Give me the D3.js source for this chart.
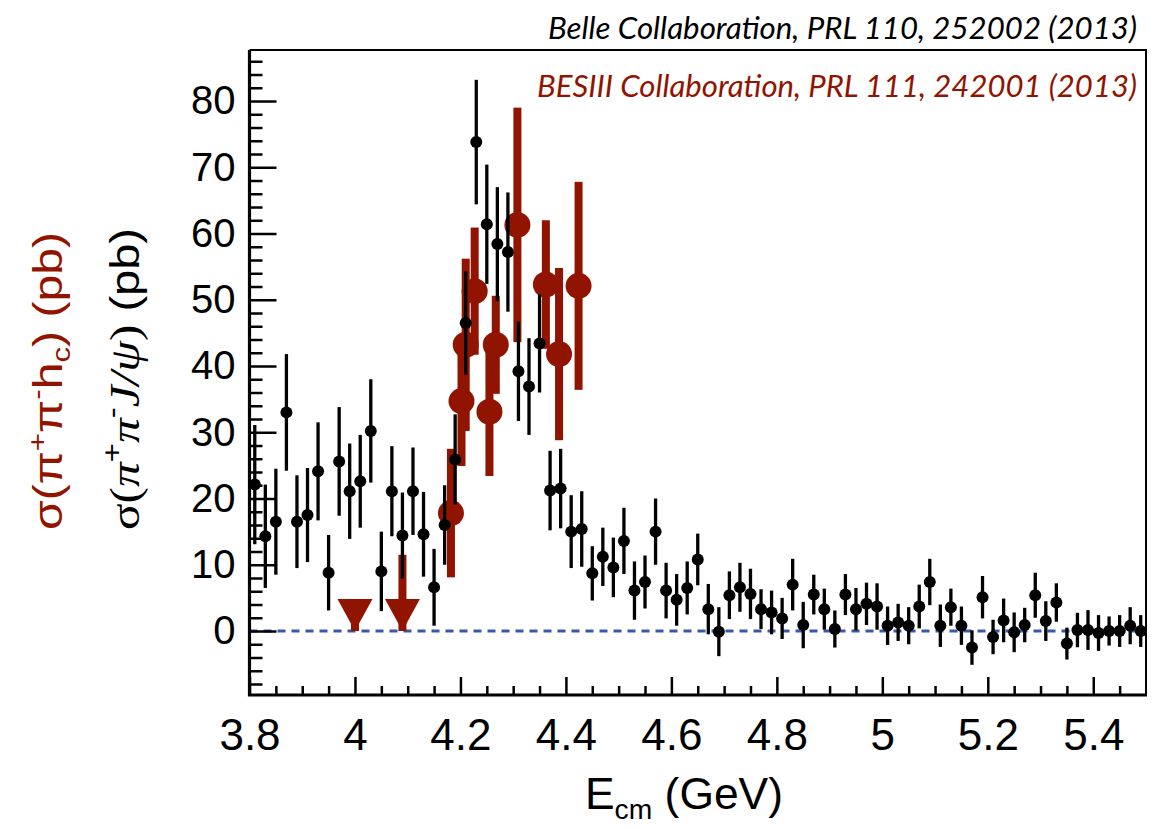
<!DOCTYPE html>
<html>
<head>
<meta charset="utf-8">
<script src="https://cdn.jsdelivr.net/npm/d3@7"></script>
<style>body{margin:0;background:#fff}</style>
</head>
<body>
<script>
// Belle: sigma(pi+ pi- J/psi), 20 MeV bins
var belleE = [3.81,3.83,3.85,3.87,3.89,3.91,3.93,3.95,3.97,3.99,
  4.01,4.03,4.05,4.07,4.09,4.11,4.13,4.15,4.17,4.19,
  4.21,4.23,4.25,4.27,4.29,4.31,4.33,4.35,4.37,4.39,
  4.41,4.43,4.45,4.47,4.49,4.51,4.53,4.55,4.57,4.59,
  4.61,4.63,4.65,4.67,4.69,4.71,4.73,4.75,4.77,4.79,
  4.81,4.83,4.85,4.87,4.89,4.91,4.93,4.95,4.97,4.99,
  5.01,5.03,5.05,5.07,5.09,5.11,5.13,5.15,5.17,5.19,
  5.21,5.23,5.25,5.27,5.29,5.31,5.33,5.35,5.37,5.39,
  5.41,5.43,5.45,5.47,5.49];
var belleVal = [22.1,14.3,16.5,33.0,16.5,17.5,24.1,8.8,25.6,21.1,
  22.6,30.2,9.0,21.1,14.4,21.1,14.6,6.6,16.0,25.9,
  46.5,73.8,61.4,58.4,57.2,39.2,36.9,43.4,21.2,21.5,
  15.0,15.4,8.7,11.2,9.6,13.6,6.1,7.4,15.0,6.1,
  4.7,6.5,10.8,3.3,-0.1,5.4,6.6,5.6,3.3,2.8,
  1.9,7.0,0.9,5.5,3.3,0.3,5.5,3.3,4.1,3.7,
  0.8,1.3,0.8,3.7,7.4,0.8,3.6,0.8,-2.5,5.1,
  -0.9,1.6,-0.2,0.9,5.4,1.5,4.3,-1.9,0.15,0.15,
  -0.3,0,0,0.8,0];
var belleErr = [9,7.8,8,8.8,7,7.1,7.4,5.7,8.2,7.2,
  7,7.8,6,6.8,6.5,6.6,6.4,5.8,6,6.8,
  7.8,9.4,9,8.6,9,7.5,7.3,7.4,6,6,
  5.5,5.7,4.1,4.4,4.5,5,4.4,4,5,4.2,
  3.9,4,3.9,3.8,3.7,3.6,3.7,3.8,3,3.3,
  3.1,3.9,3.5,3,3.1,2.8,3.1,3.2,3.2,3.5,
  2.9,2.8,2.8,3.3,3.5,3.2,2.8,2.9,2.6,3.2,
  2.6,3.3,3,2.6,3.4,3,2.9,2.4,2.6,3,
  2.7,2.2,2.4,2.8,2.4];

// BESIII: sigma(pi+ pi- h_c)
var besE = [4.182,4.202,4.210,4.227,4.255,4.267,4.308,4.362,4.387,4.424];
var besVal = [17.8,34.7,43.2,51.3,33.1,43.2,61.3,52.3,41.8,52.1];
var besErr = [9.7,9.8,13.0,9.6,9.7,7.4,17.7,9.7,13.0,15.7];
// BESIII upper limits
var ulE = [4.00,4.09];
var ulVal = [4.8,11.5];

var xTicks = [3.8,4.0,4.2,4.4,4.6,4.8,5.0,5.2,5.4];
var xTickLabels = ['3.8','4','4.2','4.4','4.6','4.8','5','5.2','5.4'];
var yTicks = [0,10,20,30,40,50,60,70,80];

var red = '#911400';
var width = 1165, height = 829;
var L = 249.5, R = 1146, T = 50, B = 695;

var svg = d3.select('body').append('svg')
  .attr('width', width)
  .attr('height', height);

var x = d3.scaleLinear().domain([3.8, 5.5]).range([L, R]);
var y = d3.scaleLinear().domain([-9.66, 87.7]).range([B, T]);

// zero line
svg.append('line')
  .attr('x1', L).attr('x2', R)
  .attr('y1', y(0)).attr('y2', y(0))
  .attr('stroke', '#3a57ab').attr('stroke-width', 3)
  .attr('stroke-dasharray', '8,6');

// BESIII points
var gRed = svg.append('g').attr('fill', red);
gRed.selectAll('rect')
  .data(besE)
  .join('rect')
    .attr('x', d => x(d) - 4)
    .attr('width', 8)
    .attr('y', (d, i) => y(besVal[i] + besErr[i]))
    .attr('height', (d, i) => y(besVal[i] - besErr[i]) - y(besVal[i] + besErr[i]));
gRed.selectAll('circle')
  .data(besE)
  .join('circle')
    .attr('cx', d => x(d))
    .attr('cy', (d, i) => y(besVal[i]))
    .attr('r', 13);

// upper limit arrows
var gUl = svg.append('g').attr('fill', red);
gUl.selectAll('rect')
  .data(ulE)
  .join('rect')
    .attr('x', d => x(d) - 4)
    .attr('width', 8)
    .attr('y', (d, i) => y(ulVal[i]))
    .attr('height', (d, i) => y(0) - y(ulVal[i]));
gUl.selectAll('path')
  .data(ulE)
  .join('path')
    .attr('d', d => {
      var cx = x(d), y0 = y(0);
      return 'M' + (cx - 17.5) + ',' + (y0 - 32) + 'L' + (cx + 17.5) + ',' + (y0 - 32) + 'L' + cx + ',' + y0 + 'Z';
    });

// Belle points
var gBlk = svg.append('g');
gBlk.selectAll('line')
  .data(belleE)
  .join('line')
    .attr('x1', d => x(d)).attr('x2', d => x(d))
    .attr('y1', (d, i) => y(belleVal[i] + belleErr[i]))
    .attr('y2', (d, i) => y(belleVal[i] - belleErr[i]))
    .attr('stroke', '#000').attr('stroke-width', 3.3);
gBlk.selectAll('circle')
  .data(belleE)
  .join('circle')
    .attr('cx', d => x(d))
    .attr('cy', (d, i) => y(belleVal[i]))
    .attr('r', 6)
    .attr('fill', '#000');

// axes
var yMinor = d3.range(-8, 88, 2).filter(v => v % 10 !== 0);
var xMinor = d3.range(3.8, 5.5, 0.05).filter(v => Math.abs(v * 5 - Math.round(v * 5)) > 1e-6);

svg.append('g')
  .attr('transform', 'translate(' + L + ',0)')
  .call(d3.axisLeft(y).tickValues(yMinor).tickSizeInner(-13).tickSizeOuter(0).tickFormat(''))
  .call(g => g.select('.domain').remove())
  .call(g => g.selectAll('line').attr('stroke-width', 2.5));

svg.append('g')
  .attr('transform', 'translate(' + L + ',0)')
  .call(d3.axisLeft(y).tickValues(yTicks).tickSizeInner(-27).tickSizeOuter(0).tickPadding(14))
  .call(g => g.select('.domain').remove())
  .call(g => g.selectAll('line').attr('stroke-width', 2.5))
  .call(g => g.selectAll('text')
    .attr('font-family', '"Liberation Sans", Arial, sans-serif')
    .attr('font-size', 40).attr('fill', '#000'));

svg.append('g')
  .attr('transform', 'translate(0,' + B + ')')
  .call(d3.axisBottom(x).tickValues(xMinor).tickSizeInner(-9).tickSizeOuter(0).tickFormat(''))
  .call(g => g.select('.domain').remove())
  .call(g => g.selectAll('line').attr('stroke-width', 2.5));

svg.append('g')
  .attr('transform', 'translate(0,' + B + ')')
  .call(d3.axisBottom(x).tickValues(xTicks).tickSizeInner(-18).tickSizeOuter(0).tickPadding(24)
    .tickFormat((d, i) => xTickLabels[i]))
  .call(g => g.select('.domain').remove())
  .call(g => g.selectAll('line').attr('stroke-width', 2.5))
  .call(g => g.selectAll('text')
    .attr('font-family', '"Liberation Sans", Arial, sans-serif')
    .attr('font-size', 44).attr('fill', '#000'));

// frame
svg.append('path')
  .attr('d', 'M' + L + ',' + T + 'H' + R + 'V' + B)
  .attr('fill', 'none').attr('stroke', '#000').attr('stroke-width', 2);
svg.append('path')
  .attr('d', 'M' + L + ',' + T + 'V' + B + 'H' + (R + 1))
  .attr('fill', 'none').attr('stroke', '#000').attr('stroke-width', 3.2);

// collaboration labels
svg.append('text')
  .attr('x', 1137).attr('y', 39)
  .attr('text-anchor', 'end')
  .attr('font-family', 'Lato, "Open Sans", sans-serif')
  .attr('font-style', 'italic')
  .attr('font-size', 30)
  .attr('textLength', 589).attr('lengthAdjust', 'spacingAndGlyphs')
  .text('Belle Collaboration, PRL 110, 252002 (2013)');

svg.append('text')
  .attr('x', 1137).attr('y', 97)
  .attr('text-anchor', 'end')
  .attr('font-family', 'Lato, "Open Sans", sans-serif')
  .attr('font-style', 'italic')
  .attr('font-size', 30)
  .attr('fill', red)
  .attr('textLength', 600).attr('lengthAdjust', 'spacingAndGlyphs')
  .text('BESIII Collaboration, PRL 111, 242001 (2013)');

// x title
var xt = svg.append('text')
  .attr('x', 585).attr('y', 809)
  .attr('font-family', '"Liberation Sans", Arial, sans-serif')
  .attr('font-size', 44)
  .attr('textLength', 198).attr('lengthAdjust', 'spacingAndGlyphs');
xt.append('tspan').text('E');
xt.append('tspan').attr('font-size', 28).attr('dy', 10).text('cm');
xt.append('tspan').attr('dy', -10).text(' (GeV)');

// y titles
var yt1 = svg.append('text')
  .attr('transform', 'translate(62,530) rotate(-90)')
  .attr('font-family', '"Liberation Sans", Arial, sans-serif')
  .attr('font-size', 40)
  .attr('fill', red)
  .attr('textLength', 298).attr('lengthAdjust', 'spacingAndGlyphs');
yt1.append('tspan').text('σ(π');
yt1.append('tspan').attr('font-size', 26).attr('dy', -16).text('+');
yt1.append('tspan').attr('dy', 16).text('π');
yt1.append('tspan').attr('font-size', 26).attr('dy', -16).text('-');
yt1.append('tspan').attr('dy', 16).text('h');
yt1.append('tspan').attr('font-size', 26).attr('dy', 8).text('c');
yt1.append('tspan').attr('dy', -8).text(') (pb)');

var yt2 = svg.append('text')
  .attr('transform', 'translate(139,530) rotate(-90)')
  .attr('font-family', '"Liberation Serif", "Times New Roman", serif')
  .attr('font-size', 42)
  .attr('fill', '#000')
  .attr('textLength', 302).attr('lengthAdjust', 'spacingAndGlyphs');
yt2.append('tspan').text('σ(');
yt2.append('tspan').attr('font-style', 'italic').text('π');
yt2.append('tspan').attr('font-size', 28).attr('dy', -18).attr('font-family', '"Liberation Sans", Arial, sans-serif').text('+');
yt2.append('tspan').attr('dy', 18).attr('font-style', 'italic').text('π');
yt2.append('tspan').attr('font-size', 28).attr('dy', -18).attr('font-family', '"Liberation Sans", Arial, sans-serif').text('-');
yt2.append('tspan').attr('dy', 18).attr('font-style', 'italic').text('J/ψ');
yt2.append('tspan').text(')');
yt2.append('tspan').attr('font-family', '"Liberation Sans", Arial, sans-serif').attr('font-size', 40).text(' (pb)');
</script>
</body>
</html>
